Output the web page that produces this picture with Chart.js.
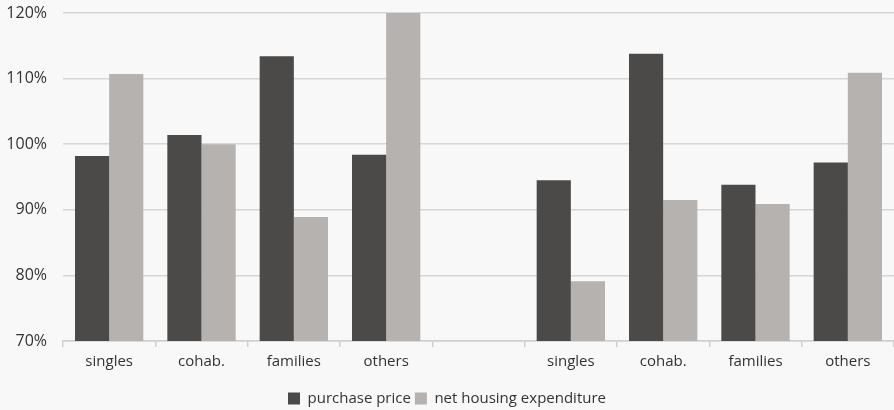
<!DOCTYPE html>
<html>
<head>
<meta charset="utf-8">
<script src="https://cdn.jsdelivr.net/npm/chart.js@4/dist/chart.umd.min.js"></script>
<style>
html,body{margin:0;padding:0;background:#f8f8f8;}
#wrap{width:894px;height:410px;position:relative;}
</style>
</head>
<body>
<div id="wrap"><canvas id="c" width="894" height="410"></canvas></div>
<script>
const categories = ["singles", "cohab.", "families", "others", "", "singles", "cohab.", "families", "others"];
const purchasePrice = [98.2, 101.4, 113.4, 98.4, null, 94.5, 113.8, 93.8, 97.2];
const netHousingExpenditure = [110.7, 100.0, 88.9, 120.0, null, 79.1, 91.5, 90.9, 110.9];
const yTicks = [70, 80, 90, 100, 110, 120];
const seriesNames = ["purchase price", "net housing expenditure"];

const font = {family: "'Open Sans', sans-serif", size: 15};
new Chart(document.getElementById('c'), {
  type: 'bar',
  data: {
    labels: categories,
    datasets: [
      {label: seriesNames[0], data: purchasePrice, backgroundColor: '#4b4a48', borderWidth: 0},
      {label: seriesNames[1], data: netHousingExpenditure, backgroundColor: '#b5b2b0', borderWidth: 0}
    ]
  },
  options: {
    responsive: false,
    animation: false,
    layout: {padding: {top: 13, right: 0, left: 0, bottom: -6}},
    datasets: {bar: {categoryPercentage: 0.74, barPercentage: 1.0}},
    plugins: {
      legend: {
        position: 'bottom',
        labels: {font: font, color: '#333', boxWidth: 12, boxHeight: 12, padding: 4}
      },
      tooltip: {enabled: false}
    },
    scales: {
      x: {
        offset: true,
        afterFit: (axis) => { axis.height += 10; },
        grid: {display: true, drawOnChartArea: false, offset: true, tickLength: 6, color: '#cfcfcf', lineWidth: 1.5},
        border: {display: true, color: '#cfcfcf', width: 1.5},
        ticks: {font: font, color: '#333', padding: 6}
      },
      y: {
        min: 70, max: 120,
        afterBuildTicks: (axis) => { axis.ticks = yTicks.map(v => ({value: v})); },
        afterFit: (axis) => { axis.width = 63; axis.paddingTop = 0; axis.paddingBottom = 0; },
        grid: {color: '#d6d6d6', lineWidth: 1.5, drawTicks: false},
        border: {display: false},
        ticks: {font: {family: "'Open Sans', sans-serif", size: 16}, color: '#333', padding: 16, callback: v => v + '%'}
      }
    }
  }
});
</script>
</body>
</html>
